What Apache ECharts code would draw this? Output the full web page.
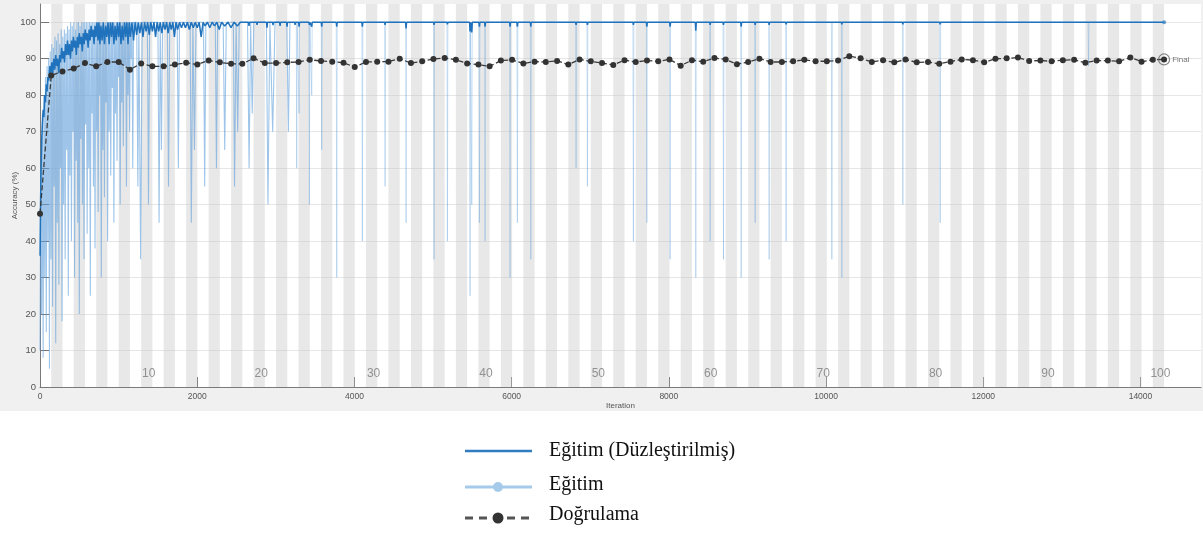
<!DOCTYPE html>
<html>
<head>
<meta charset="utf-8">
<script src="https://cdn.jsdelivr.net/npm/echarts@6/dist/echarts.min.js"></script>
<style>
  html, body { margin: 0; padding: 0; background: #ffffff; }
  #chart { width: 1203px; height: 537px; }
</style>
</head>
<body>
<div id="chart"></div>
<script>
// Training progress: 100 epochs, 143 iterations per epoch
const ITER_PER_EPOCH = 143;
const EPOCH_COUNT = 100;
const FINAL_ITER = ITER_PER_EPOCH * EPOCH_COUNT;

const epochTickLabels = [10, 20, 30, 40, 50, 60, 70, 80, 90, 100];
const xTickValues = [0, 2000, 4000, 6000, 8000, 10000, 12000, 14000];
const yTickValues = [0, 10, 20, 30, 40, 50, 60, 70, 80, 90, 100];

// Validation accuracy (%) at the end of each epoch, epoch 0 .. 100
const validationAcc = [
  47.5, 85.4, 86.5, 87.3, 88.8, 87.9, 89.1, 89.1, 87.0, 88.7,
  87.9, 87.9, 88.4, 88.9, 88.4, 89.5, 89.0, 88.6, 88.6, 90.1,
  88.8, 88.8, 89.0, 89.1, 89.7, 89.4, 89.2, 88.9, 87.7, 89.1,
  89.2, 89.2, 90.0, 88.8, 89.3, 89.9, 90.2, 89.7, 88.7, 88.4,
  87.9, 89.5, 89.7, 88.7, 89.2, 89.1, 89.4, 88.4, 89.8, 89.3,
  88.8, 88.3, 89.6, 89.1, 89.5, 89.3, 89.8, 88.1, 89.6, 89.2,
  90.2, 89.8, 88.5, 89.1, 90.0, 89.1, 89.1, 89.3, 89.7, 89.3,
  89.3, 89.5, 90.7, 90.1, 89.1, 89.6, 89.0, 89.8, 89.0, 89.1,
  88.6, 89.2, 89.8, 89.6, 89.0, 90.0, 90.1, 90.3, 89.4, 89.5,
  89.3, 89.6, 89.7, 88.9, 89.5, 89.5, 89.3, 90.3, 89.2, 89.7,
  89.8
];

// Smoothed training accuracy over the first iterations [iteration, %]
const smoothEarly = [
  [1, 36], [8, 52], [15, 61], [22, 68], [30, 72], [40, 76], [50, 74], [60, 80], [70, 78], [80, 83],
  [90, 81], [100, 85], [112, 84], [125, 88], [138, 86], [150, 89], [162, 86], [175, 90], [188, 87], [200, 91],
  [212, 88], [225, 90], [238, 86], [250, 91], [262, 89], [275, 93], [288, 90], [300, 92], [312, 89], [325, 94],
  [338, 91], [350, 95], [362, 91], [375, 94], [388, 90], [400, 95], [412, 92], [425, 96], [438, 93], [450, 95],
  [462, 91], [475, 96], [488, 93], [500, 97], [512, 94], [525, 96], [538, 92], [550, 97], [562, 94], [575, 98],
  [588, 95], [600, 97], [612, 93], [625, 98], [638, 95], [650, 99], [662, 96], [675, 98], [688, 94], [700, 99],
  [712, 96], [725, 100], [738, 95], [750, 100], [762, 94], [775, 99], [790, 95], [805, 100], [820, 94], [835, 99],
  [850, 96], [865, 100], [880, 94], [895, 100], [910, 96], [925, 100], [940, 94], [955, 99], [970, 95], [985, 100],
  [1000, 96], [1015, 100], [1030, 94], [1045, 99], [1060, 95], [1075, 100], [1090, 96], [1105, 100], [1120, 94], [1135, 100],
  [1150, 96], [1170, 100], [1190, 95], [1210, 100], [1230, 96.5], [1250, 100], [1270, 97], [1290, 100], [1310, 96], [1330, 100],
  [1350, 97.5], [1370, 100], [1390, 96.5], [1410, 100], [1430, 97.5], [1450, 100], [1470, 96], [1490, 100], [1510, 97.5], [1530, 100],
  [1550, 97], [1570, 100], [1590, 98], [1610, 100], [1630, 97], [1650, 100], [1670, 98], [1690, 100], [1710, 96], [1730, 100],
  [1750, 98], [1775, 100], [1800, 98.5], [1825, 100], [1850, 98.5], [1875, 100], [1900, 98], [1925, 100], [1950, 98.5], [1975, 100],
  [2000, 98.5], [2025, 100], [2050, 96], [2075, 100], [2100, 99], [2130, 100], [2160, 98.5], [2190, 100], [2220, 99], [2250, 100],
  [2280, 98], [2310, 100], [2350, 99], [2390, 100], [2430, 98.5], [2470, 100], [2510, 99], [2550, 100]
];

// Later short drops of the smoothed curve: iteration and accuracy at the drop
const smoothDipIter = [
  2659, 2761, 2888, 2965, 3054, 3143, 3245, 3296, 3427, 3457,
  3584, 3775, 4101, 4390, 4657, 5013, 5183, 5471, 5493, 5590,
  5662, 5980, 6073, 6244, 6820, 6964, 7549, 7720, 8016, 8343,
  8525, 8695, 8920, 9098, 9276, 9492, 10074, 10201, 10977, 11452,
  13339
];
const smoothDipAcc = [
  99.0, 99.3, 98.5, 99.2, 99.0, 98.8, 99.3, 98.8, 99.3, 98.8,
  98.8, 98.8, 98.8, 99.3, 98.3, 99.3, 99.4, 97.5, 97.2, 98.8,
  98.8, 98.8, 98.8, 98.8, 99.3, 99.3, 99.3, 98.8, 98.8, 97.7,
  99.3, 99.3, 98.8, 99.3, 99.3, 99.4, 99.5, 99.4, 99.4, 99.4,
  99.5
];

// Raw mini-batch accuracy, every 10 iterations from iteration 0 to 1200
const RAW_DENSE_STEP = 10;
const rawDenseAcc = [
  10, 60, 20, 75, 8, 80, 30, 85, 15, 88,
  40, 90, 5, 92, 35, 94, 22, 93, 55, 96,
  12, 95, 45, 97, 28, 94, 60, 98, 18, 96,
  50, 98, 35, 97, 65, 99, 25, 98, 58, 100,
  40, 99, 70, 100, 30, 98, 62, 100, 45, 100,
  20, 99, 68, 100, 50, 100, 35, 100, 72, 100,
  42, 100, 60, 100, 25, 100, 75, 100, 55, 100,
  38, 100, 70, 100, 48, 100, 80, 100, 30, 100,
  65, 100, 52, 100, 78, 100, 40, 100, 70, 100,
  58, 100, 82, 100, 45, 100, 75, 100, 62, 100,
  85, 100, 50, 100, 78, 100, 66, 100, 88, 100,
  55, 100, 80, 100, 70, 100, 90, 100, 60, 100,
  100
];

// Raw mini-batch accuracy after that, grouped drops [iteration, %]
const rawEarly = [
  [1230, 100], [1245, 55], [1258, 100], [1268, 70], [1280, 35], [1300, 100],
  [1365, 100], [1374, 75], [1380, 50], [1395, 100],
  [1500, 100], [1515, 45], [1530, 100], [1545, 65], [1560, 100],
  [1620, 100], [1635, 55], [1650, 100],
  [1745, 100], [1760, 60], [1775, 100],
  [1910, 100], [1925, 45], [1945, 100], [1965, 65], [1985, 100],
  [2080, 100], [2095, 55], [2110, 100],
  [2230, 100], [2245, 60], [2260, 100],
  [2330, 100], [2350, 65], [2370, 100],
  [2460, 100], [2475, 55], [2495, 100], [2515, 70], [2535, 100],
  [2640, 100], [2660, 60], [2680, 100], [2700, 75], [2720, 100],
  [2880, 100], [2900, 50], [2925, 100], [2960, 70], [2990, 100],
  [3140, 100], [3160, 70], [3180, 100]
];

// Later isolated mini-batch drops: iteration and accuracy at the drop
const rawDipIter = [
  3266, 3296, 3427, 3457, 3584, 3775, 4101, 4390, 4657, 5013,
  5183, 5471, 5493, 5590, 5662, 5980, 6073, 6244, 6820, 6964,
  7549, 7720, 8016, 8343, 8525, 8695, 8920, 9098, 9276, 9492,
  10074, 10201, 10977, 11452, 13339
];
const rawDipAcc = [
  60, 75, 50, 80, 65, 30, 40, 55, 45, 35,
  40, 25, 50, 45, 40, 30, 45, 35, 60, 55,
  40, 45, 35, 30, 40, 35, 30, 45, 35, 40,
  35, 30, 50, 45, 88
];

// ---- build series data ----
function withDips(base, dipIters, dipVals, top) {
  const out = base.slice();
  dipIters.forEach((it, i) => {
    out.push([it - 6, top], [it, dipVals[i]], [it + 6, top]);
  });
  out.push([FINAL_ITER, top]);
  return out;
}
const smoothedData = withDips(smoothEarly, smoothDipIter, smoothDipAcc, 100);
// first part of the raw curve (busy start) and the calm remainder
const rawStartData = rawDenseAcc.map((v, i) => [i * RAW_DENSE_STEP, v]).concat(rawEarly);
const rawRestData = withDips([rawEarly[rawEarly.length - 1]], rawDipIter, rawDipAcc, 100);
const validationData = validationAcc.map((v, e) => [e * ITER_PER_EPOCH, v]);
const finalPoint = validationData[validationData.length - 1];
const smoothedEnd = smoothedData[smoothedData.length - 1];

// alternating epoch shading (even epochs)
const epochBands = [];
for (let e = 2; e <= EPOCH_COUNT; e += 2) {
  epochBands.push([{ xAxis: (e - 1) * ITER_PER_EPOCH }, { xAxis: e * ITER_PER_EPOCH }]);
}
const epochLabelData = epochTickLabels.map(e => [(e - 0.5) * ITER_PER_EPOCH + 25, 3.6, e]);

const SANS = '"Liberation Sans", Arial, sans-serif';
const SERIF = '"Liberation Serif", "Times New Roman", serif';
const RAW_COLOR = '#5d9fdb';

const chart = echarts.init(document.getElementById('chart'), null, { renderer: 'canvas' });

chart.setOption({
  animation: false,
  backgroundColor: '#ffffff',
  grid: {
    left: 40, right: 2, top: 4, bottom: 150,
    outerBoundsMode: 'none', containLabel: false,
    show: true, backgroundColor: '#ffffff', borderWidth: 0
  },
  xAxis: {
    type: 'value',
    min: 0, max: 14770, interval: 2000,
    name: 'Iteration', nameLocation: 'middle', nameGap: 15, nameMoveOverlap: false,
    nameTextStyle: { fontSize: 8, color: '#555', fontFamily: SANS },
    axisLine: { show: true, lineStyle: { color: '#7a7a7a', width: 1 } },
    axisTick: { show: true, inside: true, length: 10, customValues: xTickValues, lineStyle: { color: '#777' } },
    axisLabel: { customValues: xTickValues, formatter: v => String(v), fontSize: 8.5, color: '#555', margin: 5, fontFamily: SANS },
    splitLine: { show: false }
  },
  yAxis: {
    type: 'value',
    min: 0, max: 105, interval: 10,
    name: 'Accuracy (%)', nameLocation: 'middle', nameGap: 21, nameRotate: 90, nameMoveOverlap: false,
    nameTextStyle: { fontSize: 8, color: '#555', fontFamily: SANS },
    axisLine: { show: true, lineStyle: { color: '#7a7a7a', width: 1 } },
    axisTick: { show: true, inside: true, length: 9, customValues: yTickValues, lineStyle: { color: '#777' } },
    axisLabel: { customValues: yTickValues, formatter: v => String(v), fontSize: 9.5, color: '#555', margin: 4, fontFamily: SANS },
    splitLine: { show: true, lineStyle: { color: '#e6e6e6', width: 1 } }
  },
  graphic: [
    {
      type: 'rect', z: -100, silent: true,
      shape: { x: 0, y: 0, width: 1203, height: 411 },
      style: { fill: '#f0f0f0' }
    },
    // legend
    { type: 'line', z: 100, shape: { x1: 465, y1: 451, x2: 532, y2: 451 }, style: { stroke: '#2f7dc0', lineWidth: 2.5 } },
    { type: 'text', z: 100, left: 549, top: 441, style: { text: 'Eğitim (Düzleştirilmiş)', font: '20px ' + SERIF, fill: '#111' } },
    { type: 'line', z: 100, shape: { x1: 465, y1: 487, x2: 532, y2: 487 }, style: { stroke: '#a6cbea', lineWidth: 3 } },
    { type: 'circle', z: 101, shape: { cx: 498, cy: 487, r: 5 }, style: { fill: '#a6cbea' } },
    { type: 'text', z: 100, left: 549, top: 475, style: { text: 'Eğitim', font: '20px ' + SERIF, fill: '#111' } },
    { type: 'line', z: 100, shape: { x1: 465, y1: 518, x2: 532, y2: 518 }, style: { stroke: '#555', lineWidth: 3, lineDash: [8, 6] } },
    { type: 'circle', z: 101, shape: { cx: 498, cy: 518, r: 5.5 }, style: { fill: '#333' } },
    { type: 'text', z: 100, left: 549, top: 505, style: { text: 'Doğrulama', font: '20px ' + SERIF, fill: '#111' } }
  ],
  series: [
    {
      name: 'epochs', type: 'line', z: 1, silent: true,
      data: validationData, symbol: 'none',
      lineStyle: { opacity: 0 },
      markArea: { silent: true, itemStyle: { color: 'rgba(200,200,200,0.42)' }, data: epochBands }
    },
    {
      name: 'Eğitim', type: 'line', z: 2, silent: true,
      data: rawStartData, symbol: 'none',
      lineStyle: { color: RAW_COLOR, width: 1.1, opacity: 0.6 }
    },
    {
      name: 'Eğitim', type: 'line', z: 2, silent: true,
      data: rawRestData, symbol: 'none',
      lineStyle: { color: RAW_COLOR, width: 1, opacity: 0.32 }
    },
    {
      name: 'Eğitim (Düzleştirilmiş)', type: 'line', z: 3, silent: true,
      data: smoothedData, symbol: 'none',
      lineStyle: { color: '#1f72bb', width: 1.5 }
    },
    {
      name: 'Doğrulama', type: 'line', z: 4, silent: true,
      data: validationData, symbol: 'circle', symbolSize: 6, showSymbol: true,
      itemStyle: { color: '#333' },
      lineStyle: { color: '#3a3a3a', width: 1.3, type: 'dashed' }
    },
    {
      name: 'final', type: 'scatter', z: 5, silent: true,
      data: [finalPoint], symbol: 'circle', symbolSize: 11,
      itemStyle: { color: 'rgba(0,0,0,0)', borderColor: '#666', borderWidth: 1.2 },
      label: { show: true, position: 'right', distance: 2, formatter: 'Final', fontSize: 8, color: '#555', fontFamily: SANS }
    },
    {
      name: 'smoothedEnd', type: 'scatter', z: 5, silent: true,
      data: [smoothedEnd], symbol: 'circle', symbolSize: 4,
      itemStyle: { color: '#3b84c4' }
    },
    {
      name: 'epochLabels', type: 'scatter', z: 6, silent: true,
      data: epochLabelData, symbolSize: 1,
      itemStyle: { color: 'rgba(0,0,0,0)' },
      label: { show: true, position: 'inside', formatter: p => String(p.value[2]), fontSize: 12, color: '#7a7a7a', fontFamily: SANS }
    }
  ]
});
</script>
</body>
</html>
